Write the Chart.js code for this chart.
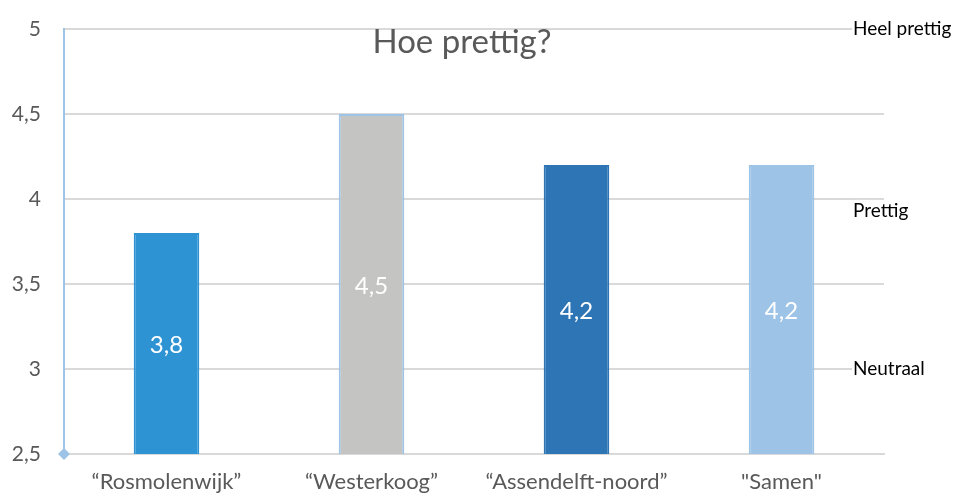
<!DOCTYPE html>
<html>
<head>
<meta charset="utf-8">
<script src="https://cdn.jsdelivr.net/npm/chart.js@4/dist/chart.umd.min.js"></script>
<style>
  html, body { margin: 0; padding: 0; background: #fff; }
  #wrap { width: 958px; height: 496px; }
</style>
</head>
<body>
<div id="wrap"><canvas id="chart"></canvas></div>
<script>
// data
const categories = ['\u201CRosmolenwijk\u201D', '\u201CWesterkoog\u201D', '\u201CAssendelft-noord\u201D', '"Samen"'];
const scores = [3.8, 4.5, 4.2, 4.2];
const barColors = ['#2E93D3', '#C4C4C2', '#2E75B6', '#9DC3E6'];
const barBorders = ['#2E93D3', '#9DC3E6', '#2E75B6', '#9DC3E6'];
const scaleLabels = ['Heel prettig', 'Prettig', 'Neutraal'];
const scaleLabelValues = [5, 3.93, 3];
const chartTitle = 'Hoe prettig?';
const yMin = 2.5, yMax = 5;

const FONT = 'Lato, "Open Sans", sans-serif';
const fmt = v => String(v).replace('.', ',');

// title, white value labels, side labels and the corner diamond
const extras = {
    id: 'extras',
    afterDraw(chart) {
        const ctx = chart.ctx;
        const area = chart.chartArea;
        const x = chart.scales.x;
        const y = chart.scales.y;
        ctx.save();

        // values inside bars
        ctx.fillStyle = '#ffffff';
        ctx.font = '24px ' + FONT;
        ctx.textAlign = 'center';
        ctx.textBaseline = 'middle';
        scores.forEach((v, i) => {
            const top = y.getPixelForValue(v);
            const bottom = y.getPixelForValue(yMin);
            ctx.fillText(fmt(v), x.getPixelForValue(i), (top + bottom) / 2 + 2);
        });

        // title
        ctx.fillStyle = '#595959';
        ctx.font = '33px ' + FONT;
        ctx.fillText(chartTitle, (area.left + area.right) / 2 - 12, area.top + 13);

        // labels on the right
        ctx.font = '19px ' + FONT;
        ctx.textAlign = 'left';
        scaleLabels.forEach((txt, i) => {
            const py = y.getPixelForValue(scaleLabelValues[i]);
            const w = ctx.measureText(txt).width;
            ctx.fillStyle = '#ffffff';
            ctx.fillRect(area.right - 32, py - 11, w + 8, 22);
            ctx.fillStyle = '#000000';
            ctx.fillText(txt, area.right - 31, py);
        });

        // diamond at the origin
        const ox = area.left;
        const oy = y.getPixelForValue(yMin);
        ctx.fillStyle = '#9DC3E6';
        ctx.beginPath();
        ctx.moveTo(ox, oy - 6);
        ctx.lineTo(ox + 6, oy);
        ctx.lineTo(ox, oy + 6);
        ctx.lineTo(ox - 6, oy);
        ctx.closePath();
        ctx.fill();
        ctx.restore();
    }
};

new Chart(document.getElementById('chart'), {
    type: 'bar',
    data: {
        labels: categories,
        datasets: [{
            data: scores,
            backgroundColor: barColors,
            borderColor: barBorders,
            borderWidth: 2,
            categoryPercentage: 1,
            barPercentage: 0.32
        }]
    },
    options: {
        responsive: true,
        maintainAspectRatio: false,
        animation: false,
        layout: { padding: { top: 29, right: 74, left: 0, bottom: 0 } },
        plugins: {
            legend: { display: false },
            tooltip: { enabled: false }
        },
        scales: {
            x: {
                grid: { display: false, drawTicks: false },
                border: { color: '#D9D9D9', width: 2 },
                ticks: { color: '#595959', font: { family: FONT, size: 22 }, padding: 15, maxRotation: 0 },
                afterFit: s => { s.height = 42; }
            },
            y: {
                min: yMin,
                max: yMax,
                grid: { color: '#D9D9D9', lineWidth: 2, drawTicks: false },
                border: { color: '#9DC3E6', width: 2 },
                ticks: {
                    stepSize: 0.5,
                    color: '#595959',
                    font: { family: FONT, size: 21 },
                    padding: 23,
                    callback: v => fmt(v)
                },
                afterFit: s => {
                    s.width = 64;
                    s.paddingTop = 13;
                    s.paddingBottom = 13;
                }
            }
        }
    },
    plugins: [extras]
});
</script>
</body>
</html>
